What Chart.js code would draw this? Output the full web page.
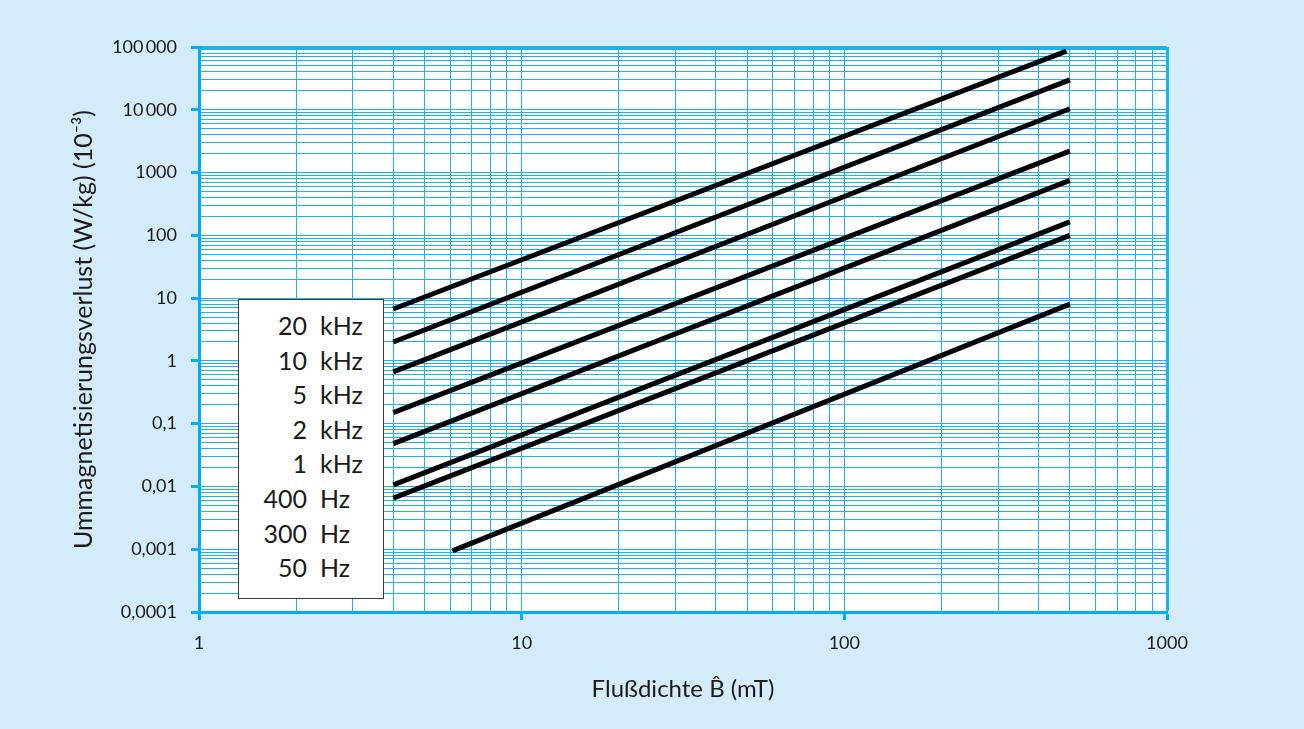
<!DOCTYPE html>
<html>
<head>
<meta charset="utf-8">
<script src="https://cdn.jsdelivr.net/npm/chart.js@4"></script>
<style>
  body { margin: 0; background: #d4ecf9; }
  #wrap { position: relative; width: 1304px; height: 729px; background: #d4ecf9; }
  #legendBox {
    position: absolute; left: 238px; top: 299px; width: 144px; height: 290px;
    background: #fff; border: 1.5px solid #3c3c3c; padding-top: 8px; box-sizing: content-box;
    font-family: Lato, sans-serif; font-size: 25px; color: #1a1a1a;
  }
  .row { display: flex; line-height: 34.6px; height: 34.6px; }
  .num { width: 68px; text-align: right; }
  .unit { margin-left: 13px; }
</style>
</head>
<body>
<div id="wrap">
  <canvas id="lossChart"></canvas>
  <div id="legendBox"></div>
</div>
<script>
// Curves: Ummagnetisierungsverlust vs. Flußdichte, one straight line per frequency (log-log)
const frequencies = ["20 kHz", "10 kHz", "5 kHz", "2 kHz", "1 kHz", "400 Hz", "300 Hz", "50 Hz"];
const startB = [4, 4, 4, 4, 4, 4, 4, 6.1];
const endB = [488, 500, 500, 500, 500, 500, 500, 500];
const startLoss = [6.7, 2.0, 0.67, 0.15, 0.048, 0.0106, 0.0065, 0.00094];
const endLoss = [86000, 30000, 10400, 2200, 750, 164, 100, 8.0];

const xDecades = [1, 10, 100, 1000];
const xTickLabels = ["1", "10", "100", "1000"];
const yDecades = [0.0001, 0.001, 0.01, 0.1, 1, 10, 100, 1000, 10000, 100000];
const yTickLabels = ["0,0001", "0,001", "0,01", "0,1", "1", "10", "100", "1000", "10\u2009000", "100\u2009000"];

const gridColor = "#1fb2e9";
const axisColor = "#00aeef";

// 1..9 per decade for the log paper grid
function logGrid(decades) {
  const out = [];
  decades.forEach((d, i) => {
    if (i === decades.length - 1) { out.push(d); return; }
    for (let k = 1; k < 10; k++) out.push(parseFloat((k * d).toPrecision(6)));
  });
  return out;
}

function decadeIndex(decades, v) {
  return decades.findIndex(d => Math.abs(v - d) / d < 1e-9);
}

const datasets = frequencies.map((f, i) => ({
  label: f,
  data: [{ x: startB[i], y: startLoss[i] }, { x: endB[i], y: endLoss[i] }],
  borderColor: "#000",
  borderWidth: 5,
  borderCapStyle: "butt",
  pointRadius: 0,
  fill: false
}));

const whiteArea = {
  id: "whiteArea",
  beforeDraw(chart) {
    const { ctx, chartArea: a } = chart;
    ctx.save();
    ctx.fillStyle = "#fff";
    ctx.fillRect(a.left, a.top, a.right - a.left, a.bottom - a.top);
    ctx.restore();
  }
};

const tickFont = { family: "Lato", size: 18 };

new Chart(document.getElementById("lossChart"), {
  type: "line",
  data: { datasets },
  plugins: [whiteArea],
  options: {
    responsive: true,
    maintainAspectRatio: false,
    animation: false,
    layout: { padding: { top: 47, right: 137, left: 0, bottom: 0 } },
    plugins: { legend: { display: false }, tooltip: { enabled: false } },
    scales: {
      x: {
        type: "logarithmic",
        min: 1,
        max: 1000,
        afterFit: s => { s.height = 117; },
        afterBuildTicks: s => { s.ticks = logGrid(xDecades).map(v => ({ value: v })); },
        ticks: {
          autoSkip: false, maxRotation: 0, padding: 12, color: "#1a1a1a", font: tickFont,
          callback: v => { const i = decadeIndex(xDecades, v); return i >= 0 ? xTickLabels[i] : ""; }
        },
        grid: {
          color: gridColor,
          lineWidth: c => (c.tick && c.tick.value === 1000 ? 3 : 1),
          tickLength: 8,
          tickWidth: 3,
          tickColor: c => (c.tick && decadeIndex(xDecades, c.tick.value) >= 0 ? axisColor : "rgba(0,0,0,0)")
        },
        border: { color: axisColor, width: 3 },
        title: {
          display: true, text: "Flußdichte B\u0302 (mT)", color: "#1a1a1a",
          font: { family: "Lato", size: 24 }, padding: { top: 0, bottom: 25 }
        }
      },
      y: {
        type: "logarithmic",
        min: 0.0001,
        max: 100000,
        afterFit: s => { s.width = 199; },
        afterBuildTicks: s => { s.ticks = logGrid(yDecades).map(v => ({ value: v })); },
        ticks: {
          autoSkip: false, padding: 14, color: "#1a1a1a", font: tickFont,
          callback: v => { const i = decadeIndex(yDecades, v); return i >= 0 ? yTickLabels[i] : ""; }
        },
        grid: {
          color: gridColor,
          lineWidth: c => (c.tick && c.tick.value === 100000 ? 3 : 1),
          tickLength: 8,
          tickWidth: 3,
          tickColor: c => (c.tick && decadeIndex(yDecades, c.tick.value) >= 0 ? axisColor : "rgba(0,0,0,0)")
        },
        border: { color: axisColor, width: 3 },
        title: {
          display: true, text: "Ummagnetisierungsverlust (W/kg) (10\u207B\u00B3)", color: "#1a1a1a",
          font: { family: "Lato", size: 25 }, padding: { top: 69, bottom: 0 }
        }
      }
    }
  }
});

// legend box: number column right-aligned, unit column left-aligned
const legendBox = document.getElementById("legendBox");
frequencies.forEach(f => {
  const [num, unit] = f.split(" ");
  const row = document.createElement("div");
  row.className = "row";
  row.innerHTML = `<span class="num">${num}</span><span class="unit">${unit}</span>`;
  legendBox.appendChild(row);
});
</script>
</body>
</html>
